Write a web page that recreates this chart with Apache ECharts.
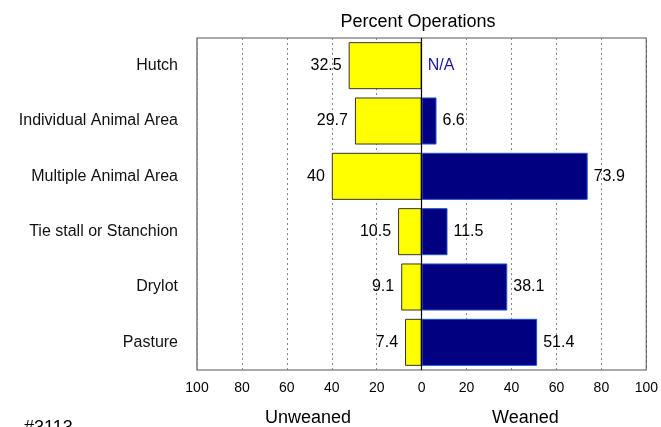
<!DOCTYPE html>
<html>
<head>
<meta charset="utf-8">
<script src="https://cdn.jsdelivr.net/npm/echarts@6/dist/echarts.min.js"></script>
<style>
html,body{margin:0;padding:0;background:#fff;}
#c{width:661px;height:427px;}
</style>
</head>
<body>
<div id="c"></div>
<script>
var categories = ['Hutch', 'Individual Animal Area', 'Multiple Animal Area', 'Tie stall or Stanchion', 'Drylot', 'Pasture'];
var unweaned = [32.5, 29.7, 40, 10.5, 9.1, 7.4];
var weaned = [null, 6.6, 73.9, 11.5, 38.1, 51.4];
var tickLabels = ['100', '80', '60', '40', '20', '0', '20', '40', '60', '80', '100'];
var titleText = 'Percent Operations';
var leftName = 'Unweaned';
var rightName = 'Weaned';
var noteText = '#3113';

var FONT = 'Liberation Sans, Arial, Helvetica, sans-serif';
var chart = echarts.init(document.getElementById('c'));

var unweanedData = unweaned.map(function (v) { return -v; });
var weanedData = weaned.map(function (v) {
  if (v === null) {
    return { value: 0, itemStyle: { borderWidth: 0, color: 'transparent' },
      label: { formatter: 'N/A', color: '#1a1a99' } };
  }
  return v;
});

chart.setOption({
  animation: false,
  title: {
    text: titleText, left: 413, top: 8, textAlign: 'center',
    textStyle: { fontFamily: FONT, fontSize: 18, fontWeight: 'normal', color: '#000' }
  },
  grid: { left: 197, right: 13, top: 38, bottom: 57, show: true, borderColor: '#555', borderWidth: 1.2, containLabel: false },
  xAxis: {
    type: 'value', min: -100, max: 100, interval: 20,
    axisLine: { show: false },
    axisTick: { show: false },
    axisLabel: {
      margin: 11, fontFamily: FONT, fontSize: 14, color: '#000',
      formatter: function (v) { return tickLabels[Math.round((v + 100) / 20)]; }
    },
    splitLine: { show: true, lineStyle: { type: [2, 3], color: '#888', width: 1 } }
  },
  yAxis: {
    type: 'category', data: categories, inverse: true,
    axisLine: { show: false }, axisTick: { show: false },
    axisLabel: { margin: 19, fontFamily: FONT, fontSize: 16, color: '#111' },
    splitLine: { show: false }
  },
  series: [
    {
      name: leftName, type: 'bar', data: unweanedData, barWidth: '85%', barGap: '-100%',
      itemStyle: { color: '#ffff00', borderColor: '#333', borderWidth: 1 },
      label: { show: true, position: 'left', distance: 7, fontFamily: FONT, fontSize: 16, color: '#000',
        formatter: function (p) { return String(Math.abs(p.value)); } },
      markLine: {
        silent: true, symbol: 'none', label: { show: false },
        lineStyle: { color: '#000', type: 'solid', width: 1.2 },
        data: [{ xAxis: 0 }]
      }
    },
    {
      name: rightName, type: 'bar', data: weanedData, barWidth: '85%', barGap: '-100%',
      itemStyle: { color: '#000080', borderColor: '#1f4fd0', borderWidth: 1 },
      label: { show: true, position: 'right', distance: 6, fontFamily: FONT, fontSize: 16, color: '#000',
        formatter: function (p) { return String(p.value); } }
    }
  ],
  graphic: [
    { type: 'text', left: 265, top: 409, style: { text: leftName, font: '18px ' + FONT, fill: '#000' } },
    { type: 'text', left: 492, top: 409, style: { text: rightName, font: '18px ' + FONT, fill: '#000' } },
    { type: 'text', left: 24, top: 419, style: { text: noteText, font: '18px ' + FONT, fill: '#000' } }
  ]
});
</script>
</body>
</html>
